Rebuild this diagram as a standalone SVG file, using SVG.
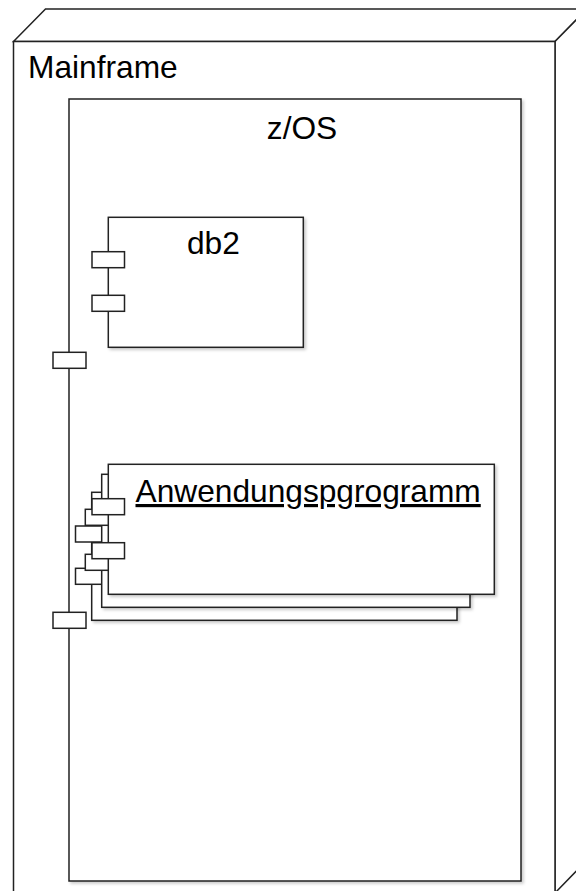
<svg xmlns="http://www.w3.org/2000/svg" width="576" height="891" viewBox="0 0 576 891">
<style>
.s{fill:#fff;stroke:#222;stroke-width:1.5}
.t{font-family:"Liberation Sans",Arial,sans-serif;font-size:31.7px;fill:#000}
.sh{filter:url(#shadow)}
</style>
<defs>
<filter id="shadow" x="-5%" y="-5%" width="115%" height="115%">
<feDropShadow dx="2" dy="2" stdDeviation="1.5" flood-color="#000" flood-opacity="0.2"/>
</filter>
</defs>
<rect width="576" height="891" fill="#fff"/>
<g id="mainframe">
<polygon class="s" points="13.5,41.5 45.5,9 587,9 555,41.5"/>
<polygon class="s" points="555,41.5 587,9 587,860 555,893"/>
<rect class="s" x="13.5" y="41.5" width="541.5" height="851.5"/>
<text class="t" x="28" y="78">Mainframe</text>
</g>
<g id="zos">
<rect class="s sh" x="69" y="99" width="452" height="782"/>
<text class="t" x="302" y="139" text-anchor="middle">z/OS</text>
<rect class="s" x="53" y="352.3" width="33" height="16"/>
<rect class="s" x="53" y="612.3" width="33" height="16"/>
</g>
<g id="db2">
<rect class="s sh" x="108.3" y="217.3" width="195" height="130"/>
<rect class="s" x="92" y="251.7" width="32.5" height="16"/>
<rect class="s" x="92" y="295.3" width="32.5" height="16"/>
<text class="t" x="187" y="254">db2</text>
</g>
<g id="anwendungsprogramm">
<g id="copy3">
<rect class="s sh" x="91.7" y="492.3" width="365.3" height="128"/>
<rect class="s" x="75.5" y="526" width="32.5" height="16"/>
<rect class="s" x="75.5" y="568.3" width="32.5" height="16"/>
</g>
<g id="copy2">
<rect class="s sh" x="101.7" y="474.3" width="368.3" height="133"/>
<rect class="s" x="85.3" y="509.3" width="32.5" height="16"/>
<rect class="s" x="85.3" y="554.3" width="32.5" height="16"/>
</g>
<g id="copy1">
<rect class="s sh" x="108.3" y="464.3" width="386" height="130"/>
<rect class="s" x="92" y="498.7" width="32.5" height="16"/>
<rect class="s" x="92" y="542.7" width="32.5" height="16"/>
<text class="t" x="135.5" y="502" text-decoration="underline">Anwendungspgrogramm</text>
</g>
</g>
<g id="connectors"/>
</svg>
